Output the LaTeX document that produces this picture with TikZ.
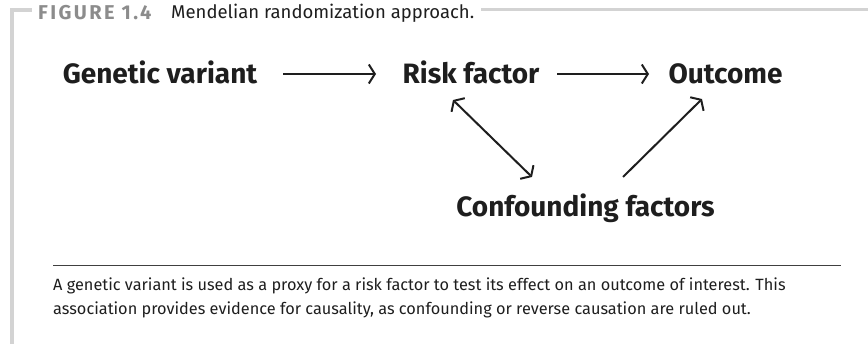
\documentclass[tikz,border=0pt]{standalone}
\usepackage{fontspec}
\setmainfont{Fira Sans}
\usetikzlibrary{arrows.meta}
\definecolor{framegray}{HTML}{D3D3D3}
\definecolor{titlegray}{HTML}{8C8C8C}
\definecolor{ink}{HTML}{1E1E1E}
\tikzset{
  mainlabel/.style={font=\fontsize{28}{31}\selectfont\bfseries, text=ink, inner sep=0pt, anchor=base},
  caption/.style={font=\fontsize{16.3}{19}\selectfont, text=ink, inner sep=0pt, anchor=base west},
  arr/.style={draw=ink, line width=2pt, -{Straight Barb[length=6pt,width=19pt,line width=2pt]}},
  darr/.style={draw=ink, line width=2pt, {Straight Barb[length=6pt,width=19pt,line width=2pt]}-{Straight Barb[length=6pt,width=19pt,line width=2pt]}},
  frame/.style={draw=framegray, line width=3.5pt}
}
\begin{document}
\begin{tikzpicture}[x=1pt,y=-1pt]
\useasboundingbox (0,0) rectangle (868,344);
% title
\node[anchor=base west, inner sep=0pt, text=titlegray, font=\fontsize{20}{22}\selectfont\bfseries\addfontfeatures{LetterSpace=12}] (fig) at (38,19.5) {FIGURE 1.4};
\node[anchor=base west, inner sep=0pt, text=ink, font=\fontsize{18.5}{21}\selectfont] (ttl) at (171,19) {Mendelian randomization approach.};
\coordinate (fl) at (12,344);
\coordinate (ftl) at (12,10);
\coordinate (fr) at (868,10);
\draw[frame] (fl) -- (ftl) -- ([xshift=-6pt]fig.west |- ftl);
\draw[frame, line width=3pt] ([xshift=7pt]ttl.east |- fr) -- (fr);
% nodes
\node[mainlabel] (gv) at (160,84) {Genetic variant};
\node[mainlabel] (rf) at (471,84) {Risk factor};
\node[mainlabel] (oc) at (725.5,84) {Outcome};
\node[mainlabel] (cf) at (585.5,217) {Confounding factors};
% arrows
\draw[arr] ([shift={(123,-10)}]gv.base) -- ([shift={(-95,-10)}]rf.base);
\draw[arr] ([shift={(86,-10)}]rf.base) -- ([shift={(-76.5,-10)}]oc.base);
\draw[darr] ([shift={(-18,16)}]rf.base) -- ([shift={(-53.5,-40)}]cf.base);
\draw[arr] ([shift={(37.5,-40)}]cf.base) -- ([shift={(-23.5,15)}]oc.base);
% rule and caption
\coordinate (rl) at (53,266);
\coordinate (rr) at (841,266);
\draw[draw=ink!85, line width=1pt] (rl) -- (rr);
\node[caption] (c1) at (53,291) {A genetic variant is used as a proxy for a risk factor to test its effect on an outcome of interest. This};
\node[caption] (c2) at (53,315) {association provides evidence for causality, as confounding or reverse causation are ruled out.};
\end{tikzpicture}
\end{document}
